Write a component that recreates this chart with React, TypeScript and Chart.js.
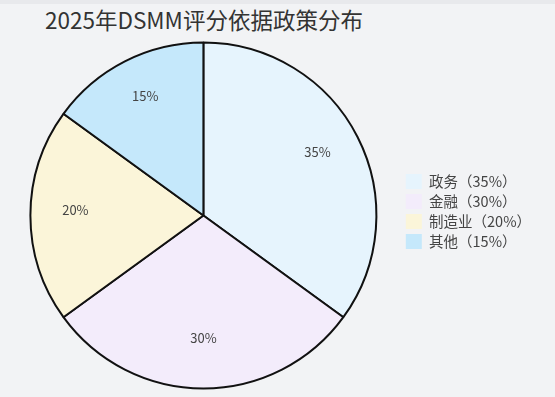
import React, { useEffect, useRef } from "react";
import { Chart, registerables } from "chart.js";

Chart.register(...registerables);

const titleText = "2025年DSMM评分依据政策分布";
const categories = ["政务", "金融", "制造业", "其他"];
const values = [35, 30, 20, 15];
const sliceColors = ["#e6f4fd", "#f3ecfb", "#fbf5d9", "#c5e8fb"];

const FONT = "'Noto Sans CJK SC', 'Noto Sans', sans-serif";

const labelPlugin = {
  id: "sliceLabels",
  afterDatasetsDraw(chart: any) {
    const { ctx } = chart;
    const meta = chart.getDatasetMeta(0);
    const total = values.reduce((a, b) => a + b, 0);
    ctx.save();
    ctx.font = `13px ${FONT}`;
    ctx.fillStyle = "#444";
    ctx.textAlign = "center";
    ctx.textBaseline = "middle";
    meta.data.forEach((arc: any, i: number) => {
      const { x, y, startAngle, endAngle, outerRadius } = arc.getProps(
        ["x", "y", "startAngle", "endAngle", "outerRadius"],
        true
      );
      const mid = (startAngle + endAngle) / 2;
      const r = outerRadius * 0.74;
      const pct = Math.round((values[i] / total) * 100);
      ctx.fillText(pct + "%", x + Math.cos(mid) * r, y + Math.sin(mid) * r - 5);
    });
    ctx.restore();
  },
};

const legendShiftPlugin = {
  id: "legendShift",
  afterLayout(chart: any) {
    if (chart.legend) {
      chart.legend.top -= 4;
      chart.legend.bottom -= 4;
    }
  },
};

export default function App() {
  const ref = useRef<HTMLCanvasElement>(null);
  useEffect(() => {
    if (!ref.current) return;
    const chart = new Chart(ref.current, {
      type: "pie",
      data: {
        labels: categories,
        datasets: [
          {
            data: values,
            backgroundColor: sliceColors,
            borderColor: "#111",
            borderWidth: 2,
          },
        ],
      },
      options: {
        animation: false,
        responsive: false,
        maintainAspectRatio: false,
        layout: { padding: { top: 41.5, bottom: 7.5, left: 6, right: 14 } },
        plugins: {
          title: { display: false },
          tooltip: { enabled: false },
          legend: {
            position: "right",
            labels: {
              boxWidth: 16,
              boxHeight: 15,
              padding: 5,
              color: "#444",
              font: { size: 14.5, family: FONT },
              generateLabels: () =>
                categories.map((c, i) => ({
                  text: `${c}（${values[i]}%）`,
                  fillStyle: sliceColors[i],
                  strokeStyle: sliceColors[i],
                  lineWidth: 0,
                  hidden: false,
                  index: i,
                  datasetIndex: 0,
                  fontColor: "#444",
                })),
            },
          },
        },
      },
      plugins: [labelPlugin, legendShiftPlugin],
    });
    return () => chart.destroy();
  }, []);

  return (
    <div
      style={{
        position: "fixed",
        left: 0,
        top: 0,
        width: 555,
        height: 397,
        background: "#f2f3f5",
        overflow: "hidden",
      }}
    >
      <div style={{ position: "absolute", left: 0, top: 0, width: 555, height: 4, background: "#e8e9ec" }} />
      <div
        style={{
          position: "absolute",
          left: 45,
          top: 5,
          fontFamily: FONT,
          fontSize: 22.5,
          lineHeight: "28px",
          color: "#333",
          whiteSpace: "nowrap",
        }}
      >
        {titleText}
      </div>
      <canvas
        ref={ref}
        width={555}
        height={397}
        style={{ position: "absolute", left: 0, top: 0, width: 555, height: 397 }}
      />
    </div>
  );
}
